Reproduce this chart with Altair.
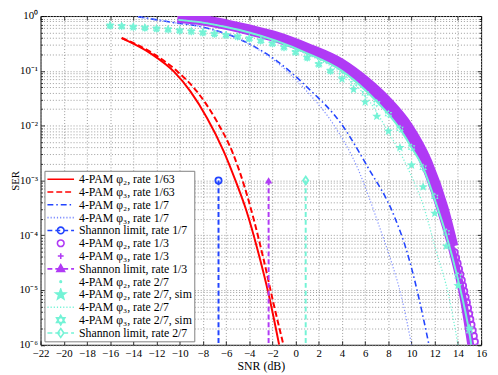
import math
import altair as alt
import pandas as pd

FONT = "Liberation Serif"

# ---------------- axis ticks ----------------
x_ticks = [-22, -20, -18, -16, -14, -12, -10, -8, -6, -4, -2, 0, 2, 4, 6, 8, 10, 12, 14, 16]
y_decades = [1e-6, 1e-5, 1e-4, 1e-3, 1e-2, 1e-1, 1.0]
y_minor = [m * 10.0 ** e for e in range(-6, 0) for m in range(2, 10)]
y_ticks = sorted(y_decades + y_minor)

# ---------------- series ----------------
# 4-PAM phi2, rate 1/63 (red solid)
r63_p2_snr = [-15.0, -12.45, -10.47, -9.06, -7.64, -6.22, -5.1, -4.25, -3.3, -2.3, -1.42]
r63_p2_ser = [0.394, 0.204, 0.0955, 0.0417, 0.0138, 3.47e-3, 8.9e-4, 2.82e-4, 5.62e-5, 7.94e-6, 1.0e-6]
# 4-PAM phi3, rate 1/63 (red dashed)
r63_p3_snr = [-15.0, -12.4, -10.15, -8.5, -6.8, -5.4, -4.4, -3.6, -2.75, -1.9, -1.05]
r63_p3_ser = [0.398, 0.214, 0.0955, 0.0417, 0.0120, 3.09e-3, 7.59e-4, 1.91e-4, 3.55e-5, 5.62e-6, 1.0e-6]
# 4-PAM phi2, rate 1/7 (blue dash-dot)
r7_p2_snr = [-13.6, -10.5, -8.5, -4.25, -1.6, 1.1, 3.95, 6.2, 8.5, 9.6, 10.3, 10.9, 11.5]
r7_p2_ser = [0.977, 0.759, 0.661, 0.331, 0.151, 0.0479, 0.0107, 1.78e-3, 2.24e-4, 5.01e-5, 1.41e-5, 3.98e-6, 1.0e-6]
# 4-PAM phi3, rate 1/7 (light blue dotted)
r7_p3_snr = [-13.6, -10.5, -8.5, -4.25, -1.6, 1.0, 3.24, 5.4, 7.2, 8.2, 9.1, 10.0]
r7_p3_ser = [0.977, 0.759, 0.661, 0.324, 0.141, 0.0417, 0.0107, 1.58e-3, 1.48e-4, 3.55e-5, 7.94e-6, 1.0e-6]
# 4-PAM phi2, rate 1/3 (purple circles: dense band, then separate circles)
r3_p2_snr = [-10.1, -8.0, -6.0, -4.0, -1.7, 1.0, 4.0, 6.0, 7.9, 9.7, 11.4, 12.8, 13.65]
r3_p2_ser = [0.966, 0.871, 0.724, 0.582, 0.437, 0.269, 0.138, 0.0676, 0.0288, 0.01, 2.19e-3, 3.16e-4, 6.31e-5]
r3_p2_tail_snr = [13.71, 13.84, 13.97, 14.09, 14.21, 14.33, 14.44, 14.55, 14.66, 14.77, 14.87, 14.97,
                  15.07, 15.17, 15.27, 15.37, 15.46]
r3_p2_tail_ser = [4.9e-5, 3.87e-5, 3.06e-5, 2.42e-5, 1.91e-5, 1.51e-5, 1.20e-5, 9.46e-6, 7.48e-6, 5.92e-6,
                  4.68e-6, 3.70e-6, 2.92e-6, 2.31e-6, 1.83e-6, 1.45e-6, 1.14e-6]
# 4-PAM phi3, rate 1/3 (purple plus, dense)
r3_p3_snr = [-10.2, -8.0, -6.0, -4.0, -1.7, 1.0, 4.0, 6.0, 7.7, 9.4, 11.1, 12.5, 13.5, 14.45, 15.1]
r3_p3_ser = [0.871, 0.776, 0.646, 0.513, 0.380, 0.234, 0.115, 0.0537, 0.024, 8.71e-3, 1.91e-3, 2.75e-4,
             5.25e-5, 7.08e-6, 1.0e-6]
# 4-PAM phi2, rate 2/7 (cyan dots, dense)
r27_p2_snr = [-10.1, -8.0, -6.0, -4.0, -1.7, 1.0, 4.0, 6.0, 7.0, 8.0, 9.0, 10.0, 11.0, 12.0, 13.0, 14.0, 15.0, 15.15]
r27_p2_ser = [0.851, 0.759, 0.631, 0.501, 0.355, 0.209, 0.1, 0.0447, 0.0275, 0.0162, 8.71e-3, 3.98e-3,
              1.70e-3, 4.47e-4, 1.0e-4, 1.58e-5, 1.58e-6, 1.0e-6]
# 4-PAM phi2, rate 2/7, sim (cyan five-point stars)
sim_snr = [-16, -15, -14, -13, -12, -11, -10, -9, -8, -7, -6, -5, -4, -3, -2, -1, 0, 1, 2, 3,
           4, 5, 6, 7, 8, 9, 10, 11, 12, 13, 14, 15]
sim_p2_ser = [0.668, 0.653, 0.631, 0.610, 0.589, 0.569, 0.543, 0.525, 0.501, 0.473, 0.447, 0.422, 0.389,
              0.355, 0.316, 0.269, 0.219, 0.174, 0.132, 0.1,
              0.0708, 0.0457, 0.0269, 0.0148, 7.94e-3, 3.98e-3, 1.91e-3, 7.59e-4, 2.51e-4, 6.31e-5, 1.20e-5, 2.0e-6]
# 4-PAM phi3, rate 2/7 (cyan dotted)
r27_p3_snr = [-10.1, -8.0, -6.0, -4.0, -1.7, 1.0, 4.0, 6.0, 7.9, 9.75, 11.0, 12.15, 13.2, 14.0]
r27_p3_ser = [0.851, 0.759, 0.631, 0.501, 0.347, 0.2, 0.0891, 0.0355, 8.32e-3, 1.55e-3, 3.55e-4, 4.9e-5,
              7.94e-6, 1.0e-6]
# 4-PAM phi3, rate 2/7, sim (cyan six-point stars)
sim_p3_ser = [0.668, 0.653, 0.631, 0.610, 0.589, 0.569, 0.543, 0.525, 0.501, 0.473, 0.447, 0.422, 0.389,
              0.355, 0.316, 0.269, 0.219, 0.174, 0.132, 0.1,
              0.0832, 0.0589, 0.0389, 0.0257, 0.0162, 8.71e-3, 3.98e-3, 1.70e-3, 5.01e-4, 1.12e-4, 1.78e-5, 1.78e-6]
# Shannon limits (vertical lines from 1e-3 to 1e-6)
shannon_snr = {"1/7": -6.65, "1/3": -2.33, "2/7": 0.87}
shannon_ser = [1e-3, 1e-6]

# ---------------- styles ----------------
RED = "#ff0000"
BLUE = "#2244ff"
LBLUE = "#7b8bff"
PURPLE = "#b03af5"
CYAN = "#74f3d6"


def star5(r=1.0, inner=0.42):
    pts = []
    for i in range(10):
        a = -math.pi / 2 + i * math.pi / 5
        rr = r if i % 2 == 0 else r * inner
        pts.append((rr * math.cos(a), rr * math.sin(a)))
    return "M" + "L".join(f"{x:.3f},{y:.3f}" for x, y in pts) + "Z"


def hexagram(r=1.0):
    a, b = 0.866 * r, 0.5 * r
    return (f"M0,{-r:.3f}L{a:.3f},{b:.3f}L{-a:.3f},{b:.3f}Z"
            f"M0,{r:.3f}L{a:.3f},{-b:.3f}L{-a:.3f},{-b:.3f}Z")


def circ(r):
    return f"M{r:.3f},0A{r:.3f},{r:.3f} 0 1,1 {-r:.3f},0A{r:.3f},{r:.3f} 0 1,1 {r:.3f},0Z"


def diamond(r=1.0):
    return f"M0,{-r:.3f}L{0.7 * r:.3f},0L0,{r:.3f}L{-0.7 * r:.3f},0Z"


def plus(r):
    return f"M{-r:.3f},0L{r:.3f},0M0,{-r:.3f}L0,{r:.3f}"


def tri(r):
    return f"M0,{-r:.3f}L{0.9 * r:.3f},{0.6 * r:.3f}L{-0.9 * r:.3f},{0.6 * r:.3f}Z"


SYM_PX = 27.0
UNIT = SYM_PX / 2


def dash_path(pattern):
    segs, pos, i, on = [], 0.0, 0, True
    while pos < SYM_PX - 1e-9:
        end = min(pos + pattern[i % len(pattern)], SYM_PX)
        if on:
            segs.append((pos, end))
        pos, on, i = end, not on, i + 1
    return "".join(f"M{s / UNIT - 1:.3f},0L{e / UNIT - 1:.3f},0" for s, e in segs)


XS = alt.Scale(domain=[-22, 16], nice=False, zero=False)
YS = alt.Scale(type="log", domain=[1e-6, 1], nice=False)

label_expr = ("abs(log(datum.value)/LN10 - round(log(datum.value)/LN10)) < 0.01 ? "
              "('10' + (round(log(datum.value)/LN10) == 0 ? '⁰' : "
              "'⁻' + ['','¹','²','³','⁴','⁵','⁶'][-round(log(datum.value)/LN10)])) : ''")

X_MAIN = alt.X("snr:Q", scale=XS,
               axis=alt.Axis(orient="bottom", values=x_ticks, title="SNR (dB)", grid=True, labelFlush=False,
                             labelOverlap=False, labelPadding=3, titlePadding=2, labelFontSize=11))
Y_MAIN = alt.Y("ser:Q", scale=YS,
               axis=alt.Axis(orient="left", values=y_ticks, title="SER", grid=True, labelExpr=label_expr,
                             labelFlush=False, labelOverlap=False, labelPadding=3, labelFontSize=11,
                             titleX=-22, titleBaseline="alphabetic", titleFontSize=11))
X_NONE = alt.X("snr:Q", scale=XS, axis=None)
Y_NONE = alt.Y("ser:Q", scale=YS, axis=None)


def tick_axis(orient, values, size):
    return alt.Axis(orient=orient, values=values, labels=False, grid=False, ticks=True, tickSize=size,
                    offset=-size, domain=False, title=None, tickColor="black", tickWidth=0.8)


def line(snr, ser, color, width, dash=None, interp="monotone", x=X_NONE, y=Y_NONE):
    kw = dict(color=color, strokeWidth=width, clip=True, interpolate=interp)
    if dash:
        kw["strokeDash"] = dash
    return alt.Chart(pd.DataFrame({"snr": snr, "ser": ser})).mark_line(**kw).encode(x=x, y=y)


def points(snr, ser, color, shape, size, filled, sw=1.5):
    return alt.Chart(pd.DataFrame({"snr": snr, "ser": ser})).mark_point(
        shape=shape, size=size, filled=filled, color=color, opacity=1, strokeWidth=sw, clip=True
    ).encode(x=X_NONE, y=Y_NONE)


def tick_layer(xa, ya):
    xe = alt.X("snr:Q", scale=XS, axis=xa)
    ye = alt.Y("ser:Q", scale=YS, axis=ya)
    return alt.Chart(pd.DataFrame({"snr": r63_p2_snr, "ser": r63_p2_ser})).mark_point(
        opacity=0, clip=True).encode(x=xe, y=ye)


layers = [
    line(r63_p2_snr, r63_p2_ser, RED, 2, x=X_MAIN, y=Y_MAIN),
    tick_layer(tick_axis("bottom", x_ticks, 4), tick_axis("left", y_decades, 4)),
    tick_layer(tick_axis("top", x_ticks, 4), tick_axis("right", y_decades, 4)),
    tick_layer(None, tick_axis("left", y_minor, 2)),
    tick_layer(None, tick_axis("right", y_minor, 2)),
    line(r63_p3_snr, r63_p3_ser, RED, 2, [6, 3]),
    line(r7_p2_snr, r7_p2_ser, BLUE, 1.6, [6, 3, 1.5, 3]),
    line(r7_p3_snr, r7_p3_ser, LBLUE, 1.2, [1.2, 2]),
    line([shannon_snr["1/7"]] * 2, shannon_ser, BLUE, 2, [5, 3], "linear"),
    points([shannon_snr["1/7"]], [shannon_ser[0]], BLUE, "circle", 40, False, 1.8),
    line(r3_p2_snr, r3_p2_ser, PURPLE, 9),
    points(r3_p2_tail_snr, r3_p2_tail_ser, PURPLE, "circle", 40, False, 1.8),
    line(r3_p3_snr, r3_p3_ser, PURPLE, 7),
    line([shannon_snr["1/3"]] * 2, shannon_ser, PURPLE, 2, [5, 3], "linear"),
    points([shannon_snr["1/3"]], [shannon_ser[0]], PURPLE, "triangle-up", 55, True),
    line(r27_p2_snr, r27_p2_ser, CYAN, 2),
    points(sim_snr, sim_p2_ser, CYAN, star5(), 95, True),
    line(r27_p3_snr, r27_p3_ser, CYAN, 1.3, [1.2, 2]),
    points(sim_snr, sim_p3_ser, CYAN, hexagram(), 80, True),
    line([shannon_snr["2/7"]] * 2, shannon_ser, CYAN, 2, [5, 3], "linear"),
    points([shannon_snr["2/7"]], [shannon_ser[0]], CYAN, diamond(), 60, False, 1.8),
]

# ---------------- legend ----------------
names = [
    "4-PAM φ₂, rate 1/63",
    "4-PAM φ₃, rate 1/63",
    "4-PAM φ₂, rate 1/7",
    "4-PAM φ₃, rate 1/7",
    "Shannon limit, rate 1/7",
    "4-PAM φ₂, rate 1/3",
    "4-PAM φ₃, rate 1/3",
    "Shannon limit, rate 1/3",
    "4-PAM φ₂, rate 2/7",
    "4-PAM φ₂, rate 2/7, sim",
    "4-PAM φ₃, rate 2/7",
    "4-PAM φ₃, rate 2/7, sim",
    "Shannon limit, rate 2/7",
]
shapes = [
    dash_path([SYM_PX]),
    dash_path([6, 3]),
    dash_path([6, 3, 1.5, 3]),
    dash_path([1.2, 2]),
    dash_path([5, 3]) + circ(0.25),
    circ(0.25),
    plus(0.22),
    dash_path([5, 3]) + tri(0.32),
    circ(0.06),
    star5(0.4),
    dash_path([1.2, 2]),
    hexagram(0.36),
    dash_path([5, 3]) + diamond(0.33),
]
strokes = [RED, RED, BLUE, LBLUE, BLUE, PURPLE, PURPLE, PURPLE, CYAN, CYAN, CYAN, CYAN, CYAN]
fills = ["transparent", "transparent", "transparent", "transparent", "transparent", "transparent",
         "transparent", PURPLE, CYAN, CYAN, "transparent", CYAN, "transparent"]

leg = dict(title=None, orient="none", legendX=4, legendY=157, padding=2, clipHeight=13,
           symbolSize=SYM_PX ** 2, rowPadding=0, labelFont=FONT, labelFontSize=12,
           labelColor="black", strokeColor="#808080", fillColor="white",
           symbolStrokeWidth=1.6, labelLimit=400, labelOffset=4)

legend_layer = alt.Chart(pd.DataFrame({"series": names})).mark_point(
    clip=True, opacity=1, strokeWidth=1.6
).encode(
    x=alt.value(-500), y=alt.value(-500),
    shape=alt.Shape("series:N", scale=alt.Scale(domain=names, range=shapes), legend=alt.Legend(**leg)),
    stroke=alt.Stroke("series:N", scale=alt.Scale(domain=names, range=strokes), legend=alt.Legend(**leg)),
    fill=alt.Fill("series:N", scale=alt.Scale(domain=names, range=fills), legend=alt.Legend(**leg)),
)

chart = alt.layer(*layers, legend_layer).resolve_axis(
    x="independent", y="independent"
).properties(
    width=447, height=333.5,
    autosize=alt.AutoSizeParams(type="none"),
    padding={"left": 33, "top": 5.5, "right": 9, "bottom": 28},
).configure(
    font=FONT
).configure_view(
    stroke="black", strokeWidth=1
).configure_axis(
    labelFont=FONT, labelColor="black",
    titleFont=FONT, titleFontSize=12, titleFontWeight="normal", titleColor="black",
    gridColor="#9a9a9a", gridDash=[1, 2], gridWidth=1, gridOpacity=1,
    domain=False, ticks=False,
).configure_legend(
    labelFont=FONT, labelFontSize=12, labelColor="black"
)

chart.save("out.html", embed_options={"renderer": "svg", "actions": False})
